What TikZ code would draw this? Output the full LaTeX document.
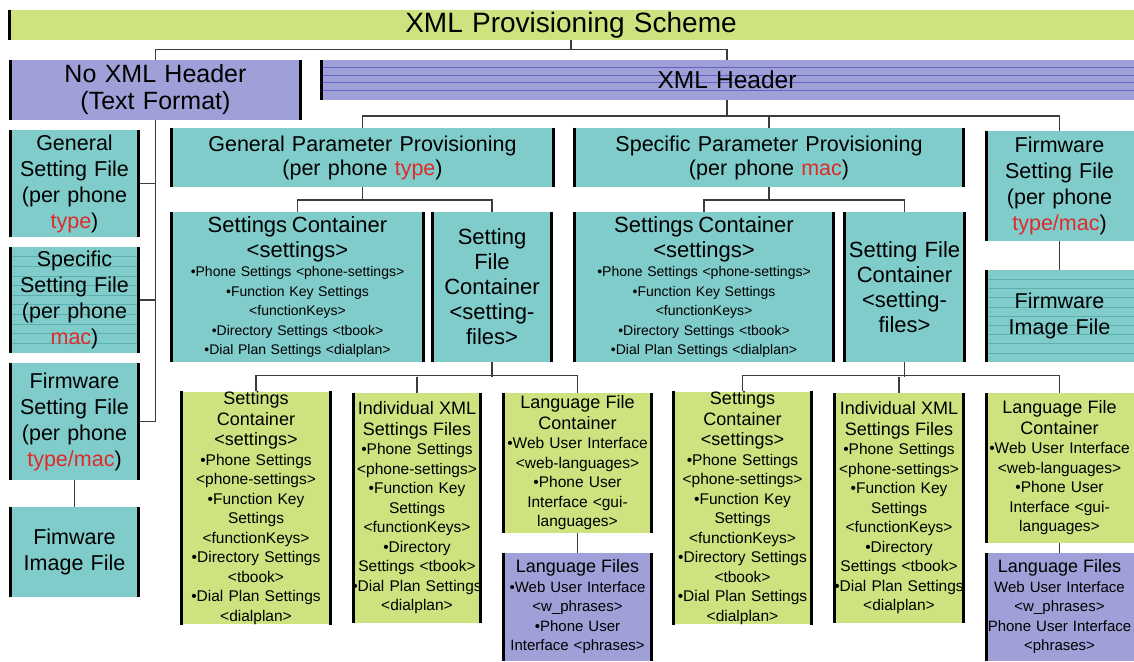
\documentclass[tikz,border=0pt]{standalone}
\usepackage{fontspec}
\setmainfont{Liberation Sans}
\usepackage{tikz}
\usetikzlibrary{positioning}
\usepackage{xcolor}

\definecolor{provgreen}{RGB}{206,226,128}
\definecolor{provteal}{RGB}{128,204,202}
\definecolor{provpurple}{RGB}{160,160,216}
\definecolor{provred}{RGB}{222,42,42}
\definecolor{tealline}{RGB}{92,176,176}
\definecolor{blueline}{RGB}{100,100,200}
\definecolor{linkgray}{RGB}{60,60,60}

\newcommand{\sttxt}{\fontsize{22}{25}\selectfont}
\newcommand{\hdtxt}{\fontsize{18}{20.5}\selectfont}
\newcommand{\typ}[1]{\textcolor{provred}{#1}}

\begin{document}
\begin{tikzpicture}[x=1pt, y=-1pt,
  every node/.style={inner sep=0pt, align=center},
  boxsize/.style 2 args={minimum width=#1pt, text width=#1pt, minimum height=#2pt},
  green box/.style={fill=provgreen},
  teal box/.style={fill=provteal},
  purple box/.style={fill=provpurple},
  stripes/.style n args={3}{path picture={
    \foreach \k in {1,...,#1}
      \draw[#3, line width=0.5pt] ([yshift=-\k*#2 pt]path picture bounding box.north west)
        -- ([yshift=-\k*#2 pt]path picture bounding box.north east);}},
  edgebar/.style={line width=3.5pt, black},
  link/.style={line width=1.4pt, linkgray},
  side font/.style={font=\fontsize{21.5}{26}\selectfont},
  item font/.style={font=\fontsize{14}{19.5}\selectfont},
  leaf font/.style={font=\fontsize{15.5}{19.5}\selectfont},
  lang font/.style={font=\fontsize{15}{19.5}\selectfont}]
  \useasboundingbox (0,0) rectangle (1134,661);

  % top rows
  \node[green box, boxsize={1126}{30}, font=\fontsize{28}{32}\selectfont] (title) at (571,25) {XML Provisioning Scheme};
  \node[purple box, boxsize={293}{60}, font=\fontsize{25}{27}\selectfont] (noxml) at (155.5,90) {No XML Header\\(Text Format)};
  \node[purple box, boxsize={814}{40}, stripes={4}{7.5}{blueline}, font=\fontsize{24.5}{28}\selectfont] (xmlhdr) at (727,80) {XML Header};

  % text format files
  \node[teal box, boxsize={131}{107}, side font] (gensf) at (74.5,183.5) {General\\Setting File\\(per phone\\\typ{type})};
  \node[teal box, boxsize={131}{106}, side font, stripes={10}{9.6}{tealline}] (specsf) at (74.5,300) {Specific\\Setting File\\(per phone\\\typ{mac})};
  \node[teal box, boxsize={131}{117}, side font] (firmsfL) at (74.5,421.5) {Firmware\\Setting File\\(per phone\\\typ{type/mac})};
  \node[teal box, boxsize={131}{90}, side font] (fimgL) at (74.5,552) {Fimware\\Image File};

  % xml provisioning
  \node[teal box, boxsize={385}{59}, font=\fontsize{21.5}{24}\selectfont] (genpp) at (362.5,157.5) {General Parameter Provisioning\\(per phone \typ{type})};
  \node[teal box, boxsize={392}{59}, font=\fontsize{21.5}{24}\selectfont] (specpp) at (769,157.5) {Specific Parameter Provisioning\\(per phone \typ{mac})};
  \node[teal box, boxsize={149}{110}, side font] (firmsfR) at (1059.5,186) {Firmware\\Setting File\\(per phone\\\typ{type/mac})};
  \node[teal box, boxsize={149}{92}, side font, stripes={9}{9.2}{tealline}] (fimgR) at (1059.5,316) {Firmware\\Image File};

  \node[teal box, boxsize={255}{150}, item font] (setcL) at (297.5,287) {{\sttxt Settings Container\\<settings>\par}•Phone Settings <phone-settings>\\•Function Key Settings\\<functionKeys>\\•Directory Settings <tbook>\\•Dial Plan Settings <dialplan>};
  \node[teal box, boxsize={122}{150}, font=\sttxt] (sfcL) at (492,287) {Setting\\File\\Container\\<setting-\\files>};
  \node[teal box, boxsize={262}{150}, item font] (setcR) at (704,287) {{\sttxt Settings Container\\<settings>\par}•Phone Settings <phone-settings>\\•Function Key Settings\\<functionKeys>\\•Directory Settings <tbook>\\•Dial Plan Settings <dialplan>};
  \node[teal box, boxsize={123}{150}, font=\sttxt] (sfcR) at (904.5,287) {Setting File\\Container\\<setting-\\files>};

  % setting file containers
  \node[green box, boxsize={152}{230}, leaf font] (setcLL) at (256,508) {{\hdtxt Settings\\Container\\<settings>\par}•Phone Settings\\<phone-settings>\\•Function Key\\Settings\\<functionKeys>\\•Directory Settings\\<tbook>\\•Dial Plan Settings\\<dialplan>};
  \node[green box, boxsize={130}{230}, leaf font] (ixmlL) at (417,508) {{\hdtxt Individual XML\\Settings Files\par}•Phone Settings\\<phone-settings>\\•Function Key\\Settings\\<functionKeys>\\•Directory\\Settings <tbook>\\•Dial Plan Settings\\<dialplan>};
  \node[green box, boxsize={151}{140}, leaf font] (lfcL) at (577.5,463) {{\hdtxt Language File\\Container\par}•Web User Interface\\<web-languages>\\•Phone User\\Interface <gui-\\languages>};
  \node[purple box, boxsize={151}{108}, lang font] (lfL) at (577.5,607) {{\hdtxt Language Files\par}•Web User Interface\\<w\_phrases>\\•Phone User\\Interface <phrases>};

  \node[green box, boxsize={141}{230}, leaf font] (setcRR) at (742.5,508) {{\hdtxt Settings\\Container\\<settings>\par}•Phone Settings\\<phone-settings>\\•Function Key\\Settings\\<functionKeys>\\•Directory Settings\\<tbook>\\•Dial Plan Settings\\<dialplan>};
  \node[green box, boxsize={132}{230}, leaf font] (ixmlR) at (899,508) {{\hdtxt Individual XML\\Settings Files\par}•Phone Settings\\<phone-settings>\\•Function Key\\Settings\\<functionKeys>\\•Directory\\Settings <tbook>\\•Dial Plan Settings\\<dialplan>};
  \node[green box, boxsize={149}{150}, leaf font] (lfcR) at (1059.5,468) {{\hdtxt Language File\\Container\par}•Web User Interface\\<web-languages>\\•Phone User\\Interface <gui-\\languages>};
  \node[purple box, boxsize={149}{108}, lang font] (lfR) at (1059.5,607) {{\hdtxt Language Files\par}Web User Interface\\<w\_phrases>\\Phone User Interface\\<phrases>};

  % black side bars
  \foreach \n in {noxml, gensf, specsf, firmsfL, fimgL, genpp, specpp, setcL, sfcL, setcR, sfcR, setcLL, ixmlL, lfcL, lfL, setcRR, ixmlR}
    \draw[edgebar] ([xshift=1.75pt]\n.north west) -- ([xshift=1.75pt]\n.south west)
      ([xshift=-1.75pt]\n.north east) -- ([xshift=-1.75pt]\n.south east);
  \foreach \n in {title, xmlhdr, firmsfR, fimgR, lfcR, lfR}
    \draw[edgebar] ([xshift=1.75pt]\n.north west) -- ([xshift=1.75pt]\n.south west);

  % connectors
  \draw[link] (title.south) -- ++(0,10);
  \draw[link] (noxml.north) -- ++(0,-10) -| (xmlhdr.north);
  \draw[link] (noxml.south) |- (gensf.east);
  \draw[link] (noxml.south) |- (specsf.east);
  \draw[link] (noxml.south) |- (firmsfL.east);
  \draw[link] (firmsfL.south) -- (fimgL.north);
  \draw[link] (xmlhdr.south) -- ++(0,16);
  \draw[link] (genpp.north) -- ++(0,-12) -| (firmsfR.north);
  \draw[link] (specpp.north) -- ++(0,-12);
  \draw[link] (firmsfR.south) -- (fimgR.north);
  \draw[link] (genpp.south) -- ++(0,13);
  \draw[link] (setcL.north) -- ++(0,-12) -| (sfcL.north);
  \draw[link] (specpp.south) -- ++(0,13);
  \draw[link] (setcR.north) -- ++(0,-12) -| (sfcR.north);
  \draw[link] (sfcL.south) -- ++(0,15);
  \draw[link] (setcLL.north) -- ++(0,-16) -| (lfcL.north);
  \draw[link] (ixmlL.north) -- ++(0,-16);
  \draw[link] (lfcL.south) -- (lfL.north);
  \draw[link] (sfcR.south) -- ++(0,15);
  \draw[link] (setcRR.north) -- ++(0,-16) -| (lfcR.north);
  \draw[link] (ixmlR.north) -- ++(0,-16);
  \draw[link] (lfcR.south) -- (lfR.north);
\end{tikzpicture}
\end{document}
